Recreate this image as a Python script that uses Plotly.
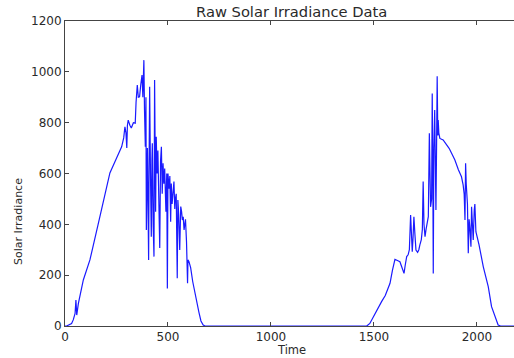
import plotly.graph_objects as go

# Readings (time, irradiance) from the reference chart
time = [0, 8, 32, 40, 49, 53, 57, 65, 89, 121, 160, 218, 250, 275, 285, 291, 296, 300, 303, 307,
        315, 322, 332, 341, 345, 351, 356, 362, 368, 374, 378, 383, 386, 390, 393, 395, 400, 403,
        406, 408, 411, 415, 419, 422, 424, 428, 432, 435, 438, 440, 443, 447, 451, 455, 460, 464,
        468, 472, 476, 480, 484, 490, 494, 497, 500, 505, 509, 513, 516, 520, 525, 529, 533, 535,
        540, 545, 548, 552, 557, 562, 566, 570, 574, 578, 585, 590, 595, 597, 602, 610, 620, 630,
        637, 650, 660, 671, 680,
        1465, 1480, 1497, 1515, 1537, 1555, 1578, 1590, 1602, 1614, 1626, 1636, 1646, 1652, 1659,
        1666, 1672, 1678, 1682, 1686, 1690, 1694, 1699, 1704, 1712, 1718, 1723, 1730, 1735, 1739,
        1743, 1748, 1753, 1759, 1764, 1769, 1772, 1775, 1780, 1783, 1786, 1788, 1791, 1795, 1798,
        1801, 1804, 1807, 1810, 1812, 1815, 1820, 1836, 1850, 1865, 1880, 1893, 1910, 1925, 1933,
        1938, 1942, 1945, 1948, 1950, 1954, 1958, 1962, 1966, 1971, 1974, 1978, 1982, 1987, 1990,
        1995, 2010, 2031, 2055, 2071, 2090, 2103, 2115, 2180]
irradiance = [0, 0, 10, 24, 50, 102, 43, 89, 181, 260, 397, 602, 660, 705, 740, 784, 760, 700, 790, 810,
              790, 779, 800, 798, 880, 948, 900, 902, 950, 987, 900, 1046, 850, 705, 900, 378, 700, 450,
              260, 600, 941, 600, 351, 650, 719, 400, 273, 968, 700, 450, 745, 600, 690, 500, 307, 650,
              705, 520, 640, 560, 620, 450, 600, 148, 600, 540, 590, 410, 561, 480, 540, 568, 460, 496,
              520, 188, 496, 440, 299, 470, 450, 417, 430, 378, 420, 330, 168, 260, 253, 230, 175, 130,
              109, 55, 20, 4, 0,
              0, 10, 37, 60, 96, 120, 168, 220, 262, 258, 253, 230, 207, 240, 273,
              280, 300, 437, 350, 292, 350, 430, 360, 299, 290, 300, 319, 340, 380, 568,
              400, 351, 380, 404, 430, 758, 480, 469, 500, 915, 600, 207, 700, 850, 650,
              456, 700, 983, 750, 810, 760, 738, 732, 718, 699, 675, 653, 615, 587, 555,
              520, 417, 640, 560, 528, 480, 286, 420, 384, 312, 469, 400, 338, 456, 480,
              371, 320, 233, 155, 76, 30, 4, 0, 0]

x_ticks = [0, 500, 1000, 1500, 2000]
y_ticks = [0, 200, 400, 600, 800, 1000, 1200]

W, H = 514, 358
L, R, T, B = 65, 0, 21, 32

fig = go.Figure(go.Scatter(x=time, y=irradiance, mode="lines",
                           line=dict(color="#1a1aff", width=1.2)))

tick_font = dict(family="DejaVu Sans", size=12, color="#2a2a2a")
axis_common = dict(showgrid=False, zeroline=False, showline=True, linecolor="#444444",
                   linewidth=1, ticks="inside", ticklen=4, tickcolor="#444444",
                   tickfont=tick_font)

fig.update_layout(
    width=W, height=H,
    margin=dict(l=L, r=R, t=T, b=B),
    paper_bgcolor="white", plot_bgcolor="white",
    showlegend=False,
    xaxis=dict(range=[0, 2180], tickvals=x_ticks, mirror="allticks", **axis_common),
    yaxis=dict(range=[0, 1200], tickvals=y_ticks, mirror=False, **axis_common),
)

pw, ph = W - L - R, H - T - B
def px(xp):
    return (xp - L) / pw
def py(yp):
    return (H - B - yp) / ph

fig.add_annotation(text="Raw Solar Irradiance Data", xref="paper", yref="paper",
                   x=px(291), y=py(12), showarrow=False, xanchor="center", yanchor="middle",
                   font=dict(family="DejaVu Sans", size=14.7, color="#2a2a2a"))
fig.add_annotation(text="Time", xref="paper", yref="paper",
                   x=px(291), y=py(350), showarrow=False, xanchor="center", yanchor="middle",
                   font=dict(family="DejaVu Sans", size=11.5, color="#2a2a2a"))
fig.add_annotation(text="Solar Irradiance", xref="paper", yref="paper",
                   x=px(18), y=py(222), showarrow=False, xanchor="center", yanchor="middle",
                   textangle=-90, font=dict(family="DejaVu Sans", size=11, color="#2a2a2a"))

fig.write_html("out.html")
